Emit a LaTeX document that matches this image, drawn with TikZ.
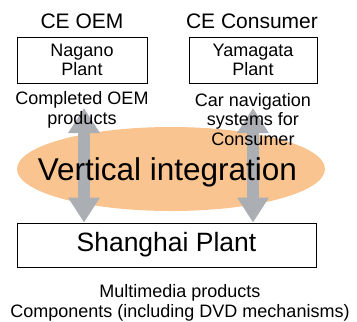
\documentclass[tikz,border=0pt]{standalone}
\usepackage{fontspec}
\setmainfont{Liberation Sans}
\usetikzlibrary{arrows.meta,shapes.geometric}
\definecolor{vorange}{HTML}{F9C48F}
\definecolor{agray}{HTML}{ABAFB3}
\tikzset{
  small/.style={font=\fontsize{18}{19.5}\selectfont, inner sep=0pt, align=center},
  header/.style={font=\fontsize{21}{23}\selectfont, inner sep=0pt},
  plantbox/.style={draw=black, line width=0.8pt, minimum width=130pt, minimum height=46pt, inner sep=0pt, align=center, font=\fontsize{18}{19.5}\selectfont},
  bigarrow/.style={agray, line width=12pt, {Triangle[width=30pt,length=25pt]}-{Triangle[width=30pt,length=25pt]}}
}
\begin{document}
\begin{tikzpicture}[x=1pt,y=-1pt]
\useasboundingbox (0,0) rectangle (357,322);
% ellipse
\node[ellipse, fill=vorange, minimum width=308pt, minimum height=84pt, inner sep=0pt] (vi) at (171,169) {};
% boxes
\node[plantbox] (nagano) at (82,60) {Nagano\\Plant};
\node[plantbox, minimum width=128pt] (yamagata) at (253,60) {Yamagata\\Plant};
\node[draw=black, line width=0.8pt, minimum width=299pt, minimum height=44pt, inner sep=0pt, font=\fontsize{26.5}{28}\selectfont] (shanghai) at (166.5,245) {Shanghai Plant};
% arrows
\coordinate (lt) at (84,108);
\coordinate (rt) at (253,108);
\draw[bigarrow] (lt) -- (lt |- shanghai.north);
\draw[bigarrow] (rt) -- (rt |- shanghai.north);
% texts
\node[header, anchor=base] (ceoem) at (82,28) {CE OEM};
\node[header, anchor=base] (cecons) at (252,28) {CE Consumer};
\node[small, anchor=base] (oemprod) at (82,124) {Completed OEM\\products};
\node[small, anchor=base] (carnav) at (253,145) {Car navigation\\systems for\\Consumer};
\node[anchor=base, inner sep=0pt, font=\fontsize{31.5}{34}\selectfont] (vitext) at (167.5,180) {Vertical integration};
\node[small, anchor=base] (multi) at (180,317) {Multimedia products\\Components (including DVD mechanisms)};
\end{tikzpicture}
\end{document}
